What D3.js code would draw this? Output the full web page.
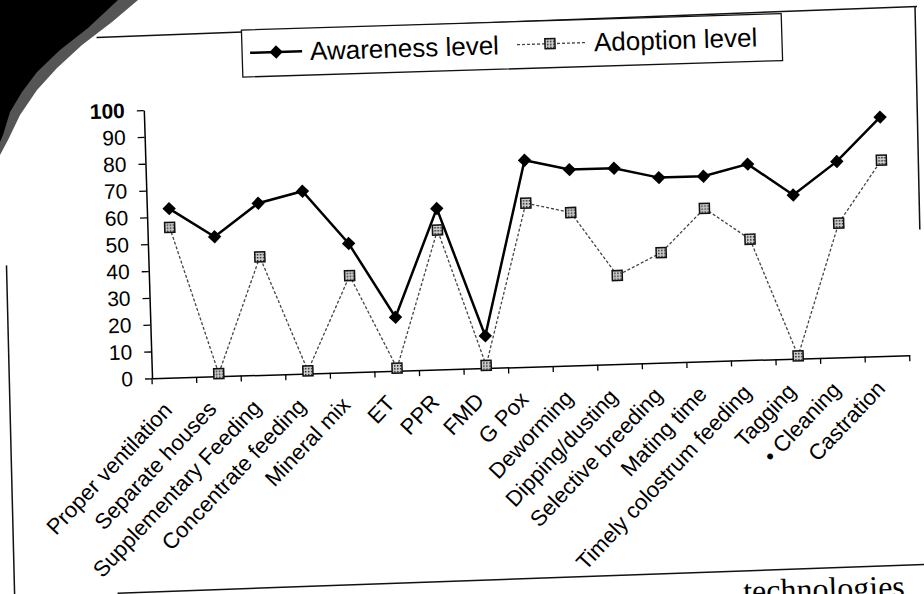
<!DOCTYPE html>
<html>
<head>
<meta charset="utf-8">
<script src="https://cdnjs.cloudflare.com/ajax/libs/d3/7.8.5/d3.min.js"></script>
<style>
body { margin: 0; background: #fff; }
svg { display: block; }
</style>
</head>
<body>
<div id="chart"></div>
<script>
const width = 924;
const height = 594;

const categories = ["Proper ventilation", "Separate houses", "Supplementary Feeding", "Concentrate feeding",
    "Mineral mix", "ET", "PPR", "FMD", "G Pox", "Deworming", "Dipping/dusting", "Selective breeding",
    "Mating time", "Timely colostrum feeding", "Tagging", "• Cleaning", "Castration"];
const awareness = [63, 52, 64, 68, 48, 20, 60, 12, 77, 73, 73, 69, 69, 73, 61, 73, 89];
const adoption = [56, 1, 44, 1, 36, 1, 52, 1, 61, 57, 33, 41, 57, 45, 1, 50, 73];
const yTicks = [0, 10, 20, 30, 40, 50, 60, 70, 80, 90, 100];
const seriesNames = ["Awareness level", "Adoption level"];
const captionText = "technologies";

const sans = "'Liberation Sans', Arial, sans-serif";

let svg = d3.select("#chart").append("svg")
    .attr("width", width)
    .attr("height", height);

// hatched fill for the adoption markers
let pat = svg.append("defs").append("pattern")
    .attr("id", "speck")
    .attr("width", 3).attr("height", 3)
    .attr("patternUnits", "userSpaceOnUse");
pat.append("rect").attr("width", 3).attr("height", 3).attr("fill", "#d0d0d0");
pat.append("rect").attr("width", 1.5).attr("height", 1.5).attr("fill", "#222");

// dark scanner corner
svg.append("polygon")
    .attr("points", "0,0 138,0 112,22 82,45 57,68 37,90 20,115 8,140 0,155")
    .attr("fill", "#555");
svg.append("polygon")
    .attr("points", "0,0 118,0 88,28 60,50 37,72 22,92 10,112 3,135 0,142")
    .attr("fill", "#000");

// the scanned page is turned a little
let g = svg.append("g").attr("transform", "rotate(-1.75,152,378)");

// page frame pieces
let frame = [
    [[107, 36], [928, 30]],
    [[926, 30], [924, 253]],
    [[10, 261], [8, 600]],
    [[111, 592], [935, 588]]
];
g.selectAll(".frame").data(frame).join("path")
    .attr("class", "frame")
    .attr("d", d => d3.line()(d))
    .attr("stroke", "#111")
    .attr("stroke-width", 1.5)
    .attr("fill", "none");

g.append("text")
    .attr("x", 898).attr("y", 620)
    .attr("text-anchor", "end")
    .attr("font-family", "'Liberation Serif', 'Times New Roman', serif")
    .attr("font-size", 32)
    .text(captionText);

let x = d3.scaleBand().domain(categories).range([152, 910]);
let y = d3.scaleLinear().domain([0, 100]).range([378.3, 110]);
let cx = d => x(d) + x.bandwidth() / 2;

// y axis
let yAxis = g.append("g")
    .attr("transform", "translate(152,0)")
    .call(d3.axisLeft(y).tickValues(yTicks).tickSize(7).tickPadding(12).tickSizeOuter(0));
yAxis.select(".domain").attr("stroke", "#000").attr("stroke-width", 1.5);
yAxis.selectAll(".tick line").attr("stroke", "#000").attr("stroke-width", 1.3);
yAxis.selectAll(".tick text")
    .attr("fill", "#000")
    .style("font-family", sans)
    .style("font-size", "21px")
    .style("font-weight", d => d === 100 ? "bold" : "normal");

// x axis
let xAxis = g.append("g")
    .attr("transform", "translate(0,378.3)")
    .call(d3.axisBottom(x).tickValues([]).tickSizeOuter(0));
xAxis.select(".domain").attr("stroke", "#000").attr("stroke-width", 1.5);

let bounds = categories.map(d => x(d)).concat([x.range()[1]]);
xAxis.selectAll(".bound").data(bounds).join("line")
    .attr("class", "bound")
    .attr("x1", d => d).attr("x2", d => d)
    .attr("y1", 0).attr("y2", 6)
    .attr("stroke", "#000")
    .attr("stroke-width", 1.3);

g.selectAll(".cat").data(categories).join("text")
    .attr("class", "cat")
    .attr("transform", d => "translate(" + (cx(d) - 2) + ",412) rotate(-45)")
    .attr("text-anchor", "end")
    .attr("font-family", sans)
    .attr("font-size", 22)
    .text(d => d);

// series
let line = d3.line()
    .x((d, i) => cx(categories[i]))
    .y(d => y(d));

g.append("path")
    .datum(adoption)
    .attr("d", line)
    .attr("fill", "none")
    .attr("stroke", "#444")
    .attr("stroke-width", 1.3)
    .attr("stroke-dasharray", "3,2");

g.append("path")
    .datum(awareness)
    .attr("d", line)
    .attr("fill", "none")
    .attr("stroke", "#000")
    .attr("stroke-width", 2.5);

let diamond = d3.symbol().type(d3.symbolSquare).size(90);
let square = d3.symbol().type(d3.symbolSquare).size(100);

g.selectAll(".aw").data(awareness).join("path")
    .attr("class", "aw")
    .attr("d", diamond)
    .attr("transform", (d, i) => "translate(" + cx(categories[i]) + "," + y(d) + ") rotate(45)")
    .attr("fill", "#000");

g.selectAll(".ad").data(adoption).join("path")
    .attr("class", "ad")
    .attr("d", square)
    .attr("transform", (d, i) => "translate(" + cx(categories[i]) + "," + y(d) + ")")
    .attr("fill", "url(#speck)")
    .attr("stroke", "#111")
    .attr("stroke-width", 1.5);

// legend
let legend = g.append("g");
legend.append("rect")
    .attr("x", 252).attr("y", 33)
    .attr("width", 540).attr("height", 47)
    .attr("fill", "#fff")
    .attr("stroke", "#111")
    .attr("stroke-width", 1.3);

legend.append("line")
    .attr("x1", 260).attr("x2", 312).attr("y1", 56).attr("y2", 56)
    .attr("stroke", "#000").attr("stroke-width", 2.5);
legend.append("path")
    .attr("d", diamond)
    .attr("transform", "translate(286,56) rotate(45)")
    .attr("fill", "#000");
legend.append("text")
    .attr("x", 320).attr("y", 65)
    .attr("font-family", sans)
    .attr("font-size", 26)
    .text(seriesNames[0]);

legend.append("line")
    .attr("x1", 527).attr("x2", 597).attr("y1", 56).attr("y2", 56)
    .attr("stroke", "#444").attr("stroke-width", 1.3)
    .attr("stroke-dasharray", "3,2");
legend.append("path")
    .attr("d", square)
    .attr("transform", "translate(560,56)")
    .attr("fill", "url(#speck)")
    .attr("stroke", "#111")
    .attr("stroke-width", 1.5);
legend.append("text")
    .attr("x", 604).attr("y", 65)
    .attr("font-family", sans)
    .attr("font-size", 26)
    .text(seriesNames[1]);
</script>
</body>
</html>
